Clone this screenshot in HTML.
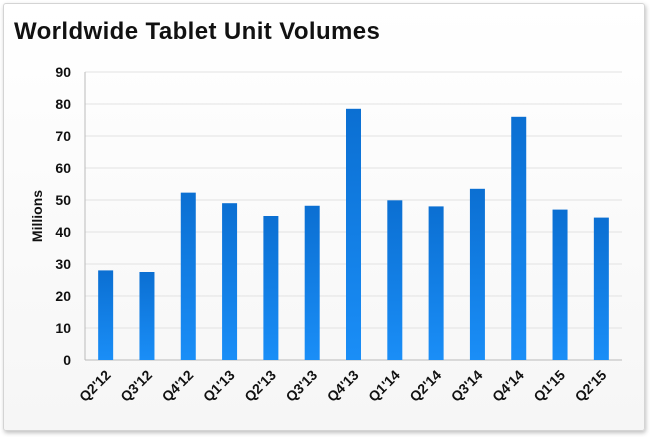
<!DOCTYPE html>
<html><head><meta charset="utf-8"><style>
body{margin:0;background:#fff;font-family:"Liberation Sans",sans-serif}
#card{position:absolute;left:3px;top:3px;width:640px;height:426px;border:1px solid #d4d4d4;border-radius:3px;background:linear-gradient(#ffffff,#f6f6f6);box-shadow:1px 2px 4px rgba(0,0,0,.25)}
</style></head><body>
<div id="card"></div>
<svg id="chart" width="650" height="437" style="position:absolute;left:0;top:0">
<defs><linearGradient id="bg" x1="0" y1="0" x2="0" y2="1"><stop offset="0" stop-color="#0b6fd2"/><stop offset="1" stop-color="#1a8ef7"/></linearGradient></defs>
<text x="14" y="39" font-size="24" font-weight="bold" fill="#111" letter-spacing="0.4">Worldwide Tablet Unit Volumes</text>
<text transform="translate(42,216) rotate(-90)" text-anchor="middle" font-size="14" font-weight="bold" fill="#111">Millions</text>
<g id="g"></g>
</svg>
<script>
const categories=["Q2'12","Q3'12","Q4'12","Q1'13","Q2'13","Q3'13","Q4'13","Q1'14","Q2'14","Q3'14","Q4'14","Q1'15","Q2'15"];
const values=[28,27.5,52.3,49,45,48.2,78.5,49.9,48,53.5,76,47,44.5];
const yTicks=[0,10,20,30,40,50,60,70,80,90];
const L=85,R=622,T=72,B=360,ymax=90;
const y=v=>B-(B-T)*v/ymax;
const step=(R-L)/categories.length;
const x=i=>L+step*(i+0.5);
const g=document.getElementById('g');const NS='http://www.w3.org/2000/svg';
function mk(t,a){const e=document.createElementNS(NS,t);for(const k in a)e.setAttribute(k,a[k]);g.appendChild(e);return e;}
yTicks.forEach(v=>{
 const l=mk('line',{x1:L,x2:R,y1:y(v),y2:y(v),stroke:v===0?'#bbb':'#e2e2e2','stroke-width':1});
 
 
 const t=mk('text',{x:L-14,y:y(v)+5,'text-anchor':'end','font-size':14,'font-weight':'bold',fill:'#111'});
 t.textContent=v;
 
 
});
const ax=mk('line',{x1:L,x2:L,y1:T,y2:B,stroke:'#bbb'});


categories.forEach((c,i)=>{
 const r=mk('rect',{x:x(i)-7.5,y:y(values[i]),width:15,height:B-y(values[i]),fill:'url(#bg)'});
 
 
 const t=mk('text',{'text-anchor':'end','font-size':14,'font-weight':'bold',fill:'#111',transform:`translate(${x(i)+6},${B+16}) rotate(-45)`});
 t.textContent=c;
 
 
});
</script>
</body></html>
